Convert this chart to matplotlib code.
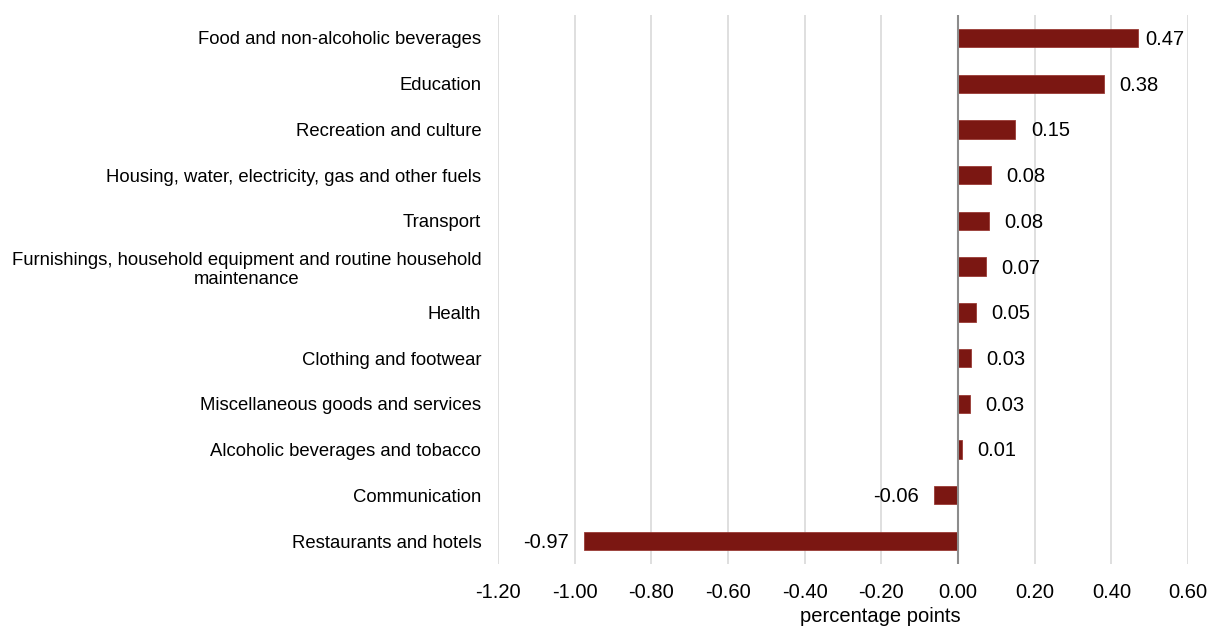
import matplotlib.pyplot as plt

plt.rcParams['font.family'] = ['Liberation Sans', 'DejaVu Sans']

categories = [
    "Food and non-alcoholic beverages",
    "Education",
    "Recreation and culture",
    "Housing, water, electricity, gas and other fuels",
    "Transport",
    "Furnishings, household equipment and routine household\nmaintenance",
    "Health",
    "Clothing and footwear",
    "Miscellaneous goods and services",
    "Alcoholic beverages and tobacco",
    "Communication",
    "Restaurants and hotels",
]
values = [0.47, 0.38, 0.15, 0.085, 0.082, 0.073, 0.046, 0.034, 0.031, 0.011, -0.063, -0.975]
labels = ["0.47", "0.38", "0.15", "0.08", "0.08", "0.07", "0.05", "0.03", "0.03", "0.01", "-0.06", "-0.97"]
xticks = [-1.2, -1.0, -0.8, -0.6, -0.4, -0.2, 0.0, 0.2, 0.4, 0.6]

bar_color = "#7b1712"

fig = plt.figure(figsize=(12.1, 6.28), dpi=100)
ax = fig.add_axes([0.4116, 0.102, 0.5702, 0.874])

y = list(range(len(categories)))
ax.barh(y, values, height=0.4, color=bar_color, edgecolor="#9a3a35", linewidth=0.6, zorder=3)

for yi, v, lab in zip(y, values, labels):
    if v >= 0:
        # label near the right edge sits closer to the bar (as Excel does)
        off = 5 if v > 0.42 else 11
        ax.annotate(lab, (v, yi), xytext=(off, -1), textcoords="offset points",
                    ha="left", va="center", fontsize=14.5)
    else:
        ax.annotate(lab, (v, yi), xytext=(-11, -1), textcoords="offset points",
                    ha="right", va="center", fontsize=14.5)

ax.set_xlim(-1.2, 0.6)
ax.set_ylim(len(categories) - 0.5, -0.5)
ax.set_xticks(xticks)
ax.set_xticklabels([f"{t:.2f}" for t in xticks], fontsize=14.5)
ax.set_yticks(y)
ax.set_yticklabels(categories, fontsize=13.3, ha="right", multialignment="center")
ax.tick_params(axis="y", length=0, pad=12)
ax.tick_params(axis="x", length=0, pad=14)

ax.grid(axis="x", color="#d9d9d9", linewidth=1.2, zorder=0)
ax.axvline(0, color="#8c8c8c", linewidth=1.5, zorder=4)
for s in ax.spines.values():
    s.set_visible(False)

ax.set_xlabel("percentage points", fontsize=14.5, va="center")
ax.xaxis.set_label_coords(0.554, -0.095)

fig.savefig("out.png", dpi=100, facecolor="white")
